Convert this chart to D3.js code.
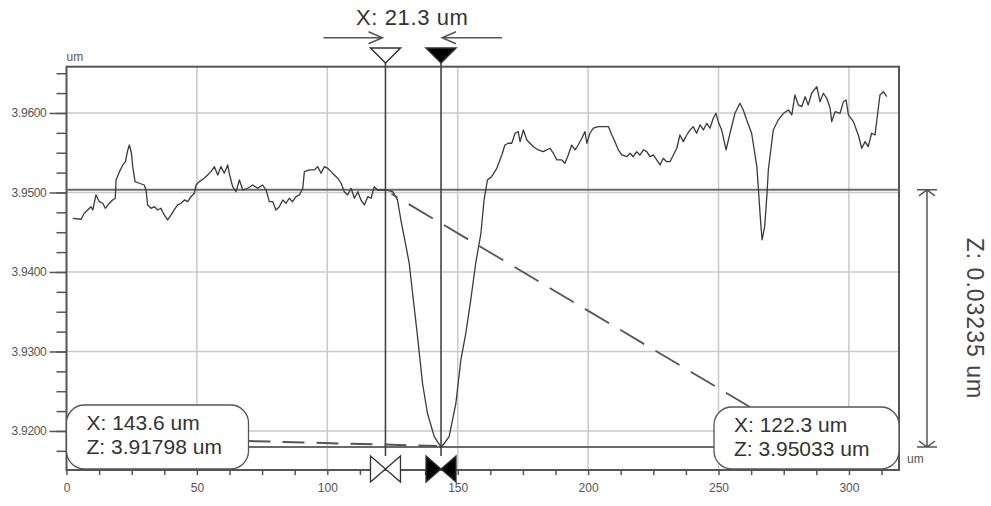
<!DOCTYPE html>
<html>
<head>
<meta charset="utf-8">
<script src="https://cdn.jsdelivr.net/npm/d3@7"></script>
<style>
  body { margin: 0; background: #fff; }
  svg { display: block; font-family: "Liberation Sans", Arial, sans-serif; }
</style>
</head>
<body>
<svg id="chart" width="991" height="506"></svg>
<script>
// Surface profile: [position (um), height (um)]
const profile = [
  [2.4,3.94675],[5.6,3.94663],[6.8,3.94738],[8.1,3.9478],[9.4,3.94821],[10.1,3.9478],[11.3,3.94969],
  [12.6,3.94884],[13.9,3.94864],[14.9,3.94801],[16.4,3.94864],[17.7,3.94906],[18.7,3.94927],[19.0,3.95157],
  [20.3,3.95262],[21.6,3.95346],[22.6,3.95387],[23.5,3.95535],[24.1,3.95597],[24.9,3.95493],[25.4,3.95325],
  [26.3,3.95136],[27.9,3.95116],[29.8,3.95094],[30.5,3.95031],[31.1,3.94843],[32.4,3.94801],[33.7,3.94821],
  [35.0,3.9478],[36.2,3.94801],[37.5,3.94717],[38.8,3.94654],[40.1,3.94717],[41.3,3.9478],[42.6,3.94843],
  [43.9,3.94864],[45.2,3.94906],[46.5,3.94884],[47.7,3.94947],[49.0,3.9499],[49.7,3.95094],[50.9,3.95136],
  [52.8,3.95179],[54.1,3.9522],[55.4,3.95262],[56.7,3.95325],[58.0,3.9522],[59.2,3.95325],[60.5,3.95242],
  [61.8,3.95346],[62.4,3.95242],[63.7,3.95073],[65.0,3.9501],[66.3,3.95157],[67.6,3.95031],[69.5,3.95053],
  [71.4,3.95094],[73.3,3.95053],[75.2,3.95094],[76.5,3.95031],[77.8,3.94884],[79.1,3.94884],[80.3,3.9478],
  [81.6,3.94821],[82.9,3.94906],[84.2,3.94864],[85.4,3.94927],[86.7,3.94884],[88.0,3.94947],[89.3,3.94969],
  [90.6,3.95053],[91.2,3.95262],[93.1,3.95283],[95.0,3.95283],[96.3,3.95325],[97.6,3.95242],[98.9,3.95325],
  [100.2,3.95304],[101.4,3.95262],[102.7,3.9522],[104.0,3.95179],[105.3,3.95116],[106.5,3.9501],[107.8,3.94969],
  [109.1,3.95053],[110.4,3.94927],[111.7,3.9501],[112.9,3.94906],[114.2,3.94843],[115.5,3.94947],[116.8,3.94927],
  [118.0,3.95073],[119.3,3.95031],[122.3,3.95033],[125.1,3.9501],[126.9,3.94906],[128.2,3.94654],[130.2,3.94318],
  [131.4,3.9411],[132.7,3.93732],[134.6,3.93186],[136.5,3.926],[138.4,3.92223],[141.0,3.91928],[143.6,3.91798],
  [144.8,3.9184],[146.7,3.91928],[149.3,3.92348],[151.2,3.92893],[153.1,3.93229],[155.0,3.93648],[156.9,3.9411],
  [158.9,3.94487],[160.1,3.94906],[161.4,3.95157],[163.0,3.95199],[165.0,3.95304],[166.9,3.95472],[168.1,3.95597],
  [169.4,3.95619],[170.7,3.95619],[172.0,3.95745],[173.2,3.95765],[173.9,3.95639],[175.2,3.95786],[176.5,3.9566],
  [177.7,3.95619],[179.0,3.95576],[180.9,3.95535],[182.8,3.95513],[184.1,3.95535],[185.4,3.95556],[186.7,3.95493],
  [188.0,3.95409],[189.9,3.95409],[191.1,3.95367],[192.4,3.95472],[193.7,3.95597],[195.0,3.95535],[196.2,3.95597],
  [197.6,3.95682],[198.8,3.95765],[199.5,3.95619],[200.7,3.95745],[202.0,3.95808],[203.9,3.95828],[205.8,3.95828],
  [207.8,3.95828],[209.1,3.95723],[210.3,3.95639],[211.6,3.95535],[212.9,3.95472],[214.8,3.9545],[216.1,3.95493],
  [217.3,3.9545],[218.6,3.95513],[219.9,3.95472],[221.2,3.95535],[222.5,3.95513],[223.7,3.9545],[225.0,3.95472],
  [226.3,3.95409],[227.6,3.95346],[228.8,3.9543],[230.1,3.95387],[231.4,3.95387],[232.7,3.95472],[234.0,3.95556],
  [235.2,3.95723],[236.5,3.95639],[237.8,3.95723],[239.1,3.95786],[240.3,3.95828],[241.6,3.95745],[242.9,3.95849],
  [244.2,3.95786],[245.5,3.9587],[246.7,3.95808],[248.0,3.95933],[249.0,3.95996],[249.9,3.95891],[251.2,3.95786],
  [252.9,3.95535],[254.4,3.95745],[256.3,3.95996],[258.2,3.96122],[259.5,3.96038],[260.8,3.95912],[262.7,3.95745],
  [264.7,3.95325],[265.4,3.9499],[266.0,3.94696],[266.7,3.94403],[267.7,3.9457],[268.6,3.9499],[269.1,3.95283],
  [271.0,3.95786],[272.9,3.95912],[274.9,3.95996],[276.8,3.96038],[278.1,3.95975],[279.3,3.96226],[280.6,3.96101],
  [281.9,3.96079],[283.2,3.96205],[284.4,3.96101],[285.7,3.96248],[287.7,3.96331],[288.9,3.96142],[290.2,3.96248],
  [291.5,3.96185],[292.8,3.96059],[293.4,3.95891],[294.7,3.96016],[296.6,3.95996],[297.9,3.96142],[298.9,3.96164],
  [299.8,3.95975],[301.7,3.95891],[303.6,3.95723],[304.9,3.95556],[306.2,3.95639],[307.4,3.95576],[308.7,3.95745],
  [310.0,3.95723],[310.7,3.95912],[311.9,3.96226],[313.2,3.96268],[314.5,3.96205]
];

// Axis ticks
const xTickValues = [0, 50, 100, 150, 200, 250, 300];
const xMinorStep = 12.5;
const zTickValues = [3.92, 3.93, 3.94, 3.95, 3.96];
const zMinorStep = 0.0025;

// Measurement cursors (open = cursor 1, filled = cursor 2)
const cursorX = [122.3, 143.6];
const cursorZ = [3.95033, 3.91798];
const deltaX = 21.3;
const deltaZ = 0.03235;

const svg = d3.select("#chart");
const frame = { left: 66.5, right: 899, top: 66.7, bottom: 470 };

const x = d3.scaleLinear().domain([0, 319.2]).range([frame.left, frame.right]);
const y = d3.scaleLinear().domain([3.91509, 3.96582]).range([frame.bottom, frame.top]);

const gridColor = "#c9c9c9";
const axisColor = "#555";
const inkColor = "#333";

// Grid
const grid = svg.append("g");
grid.selectAll("line.vx").data(xTickValues.filter(d => d > 0)).join("line")
  .attr("x1", d => x(d)).attr("x2", d => x(d))
  .attr("y1", frame.top).attr("y2", frame.bottom)
  .attr("stroke", gridColor).attr("stroke-width", 1.5);
grid.selectAll("line.hz").data(zTickValues).join("line")
  .attr("x1", frame.left).attr("x2", frame.right)
  .attr("y1", d => y(d)).attr("y2", d => y(d))
  .attr("stroke", gridColor).attr("stroke-width", 1.5);

// Minor tick values within the domains
const xMinor = d3.range(0, x.domain()[1], xMinorStep);
const zMinor = d3.range(3.915, y.domain()[1], zMinorStep).filter(v => v >= y.domain()[0]);

// Left axis
const yMinorAxis = d3.axisLeft(y).tickValues(zMinor).tickSize(10).tickFormat("");
const yMajorAxis = d3.axisLeft(y).tickValues(zTickValues).tickSize(17).tickPadding(3).tickFormat(d3.format(".4f"));
const gyMinor = svg.append("g").attr("transform", `translate(${frame.left},0)`).call(yMinorAxis);
const gyMajor = svg.append("g").attr("transform", `translate(${frame.left},0)`).call(yMajorAxis);
[gyMinor, gyMajor].forEach(g => {
  g.select(".domain").remove();
  g.selectAll(".tick line").attr("stroke", axisColor).attr("stroke-width", 1.5);
});
gyMajor.selectAll(".tick text").attr("fill", "#555").attr("font-size", 12).attr("letter-spacing", "-0.3px");

// Bottom axis
const xAxis = d3.axisBottom(x).tickValues(xMinor).tickSize(5).tickPadding(8)
  .tickFormat(d => xTickValues.includes(d) ? d : "");
const gx = svg.append("g").attr("transform", `translate(0,${frame.bottom})`).call(xAxis);
gx.select(".domain").remove();
gx.selectAll(".tick line").attr("stroke", axisColor).attr("stroke-width", 1.5);
gx.selectAll(".tick text").attr("fill", "#555").attr("font-size", 12);

// Frame
svg.append("rect")
  .attr("x", frame.left).attr("y", frame.top)
  .attr("width", frame.right - frame.left).attr("height", frame.bottom - frame.top)
  .attr("fill", "none").attr("stroke", axisColor).attr("stroke-width", 2);

// Unit labels
svg.append("text").attr("x", frame.left).attr("y", 61).attr("font-size", 12).attr("fill", "#555").text("um");
svg.append("text").attr("x", frame.right + 8).attr("y", 463).attr("font-size", 12).attr("fill", "#555").text("um");

// Horizontal cursor levels
svg.selectAll("line.level").data(cursorZ).join("line")
  .attr("x1", frame.left).attr("x2", frame.right)
  .attr("y1", d => y(d)).attr("y2", d => y(d))
  .attr("stroke", "#6a6a6a").attr("stroke-width", 2);

// Vertical cursor lines
svg.selectAll("line.cursor").data(cursorX).join("line")
  .attr("x1", d => x(d)).attr("x2", d => x(d))
  .attr("y1", 63).attr("y2", 456)
  .attr("stroke", "#444").attr("stroke-width", 1.6);

// Profile line
const line = d3.line().x(d => x(d[0])).y(d => y(d[1]));
svg.append("path").datum(profile)
  .attr("d", line).attr("fill", "none")
  .attr("stroke", "#3a3a3a").attr("stroke-width", 1.3).attr("stroke-linejoin", "round");

// Dashed leader lines from the value boxes to the cursor points
const boxH = 63, boxR = 18;
const leftBox = { x: frame.left, y: frame.bottom - 2 - boxH, w: 182 };
const rightBox = { x: frame.right - 185, y: frame.bottom - 2 - boxH + 2, w: 185 };

svg.append("line")
  .attr("x1", leftBox.x + leftBox.w).attr("y1", leftBox.y + 36)
  .attr("x2", x(cursorX[1]) - 4).attr("y2", y(cursorZ[1]) - 1)
  .attr("stroke", "#555").attr("stroke-width", 2).attr("stroke-dasharray", "22,12");
svg.append("line")
  .attr("x1", rightBox.x + 36).attr("y1", rightBox.y)
  .attr("x2", x(cursorX[0]) + 6).attr("y2", y(cursorZ[0]) + 4)
  .attr("stroke", "#555").attr("stroke-width", 1.8).attr("stroke-dasharray", "28,13");

// Value boxes
function valueBox(b, xv, zv) {
  const g = svg.append("g");
  g.append("rect").attr("x", b.x).attr("y", b.y).attr("width", b.w).attr("height", frame.bottom - b.y - 1)
    .attr("rx", boxR).attr("ry", boxR)
    .attr("fill", "#fff").attr("stroke", "#555").attr("stroke-width", 1.3);
  g.append("text").attr("x", b.x + 20).attr("y", b.y + 25).attr("font-size", 21).attr("fill", inkColor)
    .text(`X: ${xv.toFixed(1)} um`);
  g.append("text").attr("x", b.x + 20).attr("y", b.y + 49).attr("font-size", 21).attr("fill", inkColor)
    .text(`Z: ${zv.toFixed(5)} um`);
}
valueBox(leftBox, cursorX[1], cursorZ[1]);
valueBox(rightBox, cursorX[0], cursorZ[0]);

// Cursor markers: triangles on top, bow-ties on the axis
const markerFill = ["#fff", "#000"];
cursorX.forEach((cx, i) => {
  const px = x(cx);
  svg.append("path")
    .attr("d", `M${px - 15},48 L${px + 15},48 L${px},63 Z`)
    .attr("fill", markerFill[i]).attr("stroke", inkColor).attr("stroke-width", 1.5);
  svg.append("path")
    .attr("d", `M${px - 15},456 L${px - 15},482 L${px},469 Z M${px + 15},456 L${px + 15},482 L${px},469 Z`)
    .attr("fill", markerFill[i]).attr("stroke", inkColor).attr("stroke-width", 1.3);
});

// Horizontal distance indicator
const arrowY = 37.7;
const a1 = x(cursorX[0]) - 3, a2 = x(cursorX[1]) + 1;
const arrows = svg.append("g").attr("stroke", "#555").attr("stroke-width", 1.5).attr("fill", "none");
arrows.append("path").attr("d", `M${a1 - 59},${arrowY} L${a1},${arrowY} M${a1 - 14},${arrowY - 6} L${a1},${arrowY} L${a1 - 14},${arrowY + 6}`);
arrows.append("path").attr("d", `M${a2 + 60},${arrowY} L${a2},${arrowY} M${a2 + 14},${arrowY - 6} L${a2},${arrowY} L${a2 + 14},${arrowY + 6}`);
svg.append("text").attr("x", (a1 + a2) / 2).attr("y", 25).attr("text-anchor", "middle")
  .attr("font-size", 22).attr("letter-spacing", "0.6px").attr("fill", inkColor)
  .text(`X: ${deltaX.toFixed(1)} um`);

// Vertical distance indicator
const zx = 927, z1 = y(cursorZ[0]), z2 = y(cursorZ[1]);
const dim = svg.append("g").attr("stroke", "#555").attr("stroke-width", 1.5).attr("fill", "none");
dim.append("path").attr("d",
  `M${zx},${z1} L${zx},${z2}` +
  ` M${zx - 10},${z1} L${zx + 10},${z1} M${zx - 8},${z1 + 6} L${zx},${z1} L${zx + 8},${z1 + 6}` +
  ` M${zx - 10},${z2} L${zx + 10},${z2} M${zx - 8},${z2 - 6} L${zx},${z2} L${zx + 8},${z2 - 6}`);
svg.append("text")
  .attr("transform", `translate(967,${(z1 + z2) / 2}) rotate(90)`)
  .attr("text-anchor", "middle").attr("font-size", 23).attr("letter-spacing", "1px").attr("fill", "#444")
  .text(`Z: ${deltaZ.toFixed(5)} um`);
</script>
</body>
</html>
